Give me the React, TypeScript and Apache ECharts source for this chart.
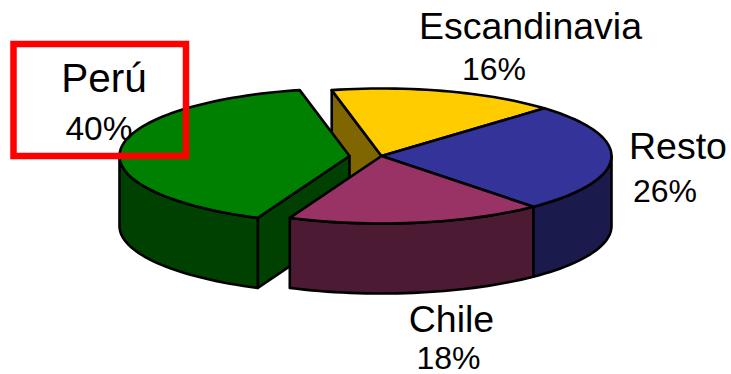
import React, { useEffect, useRef } from "react";
import * as echarts from "echarts";

// Sales share by destination, listed clockwise from the start of the pie.
const categories = ["Escandinavia", "Resto", "Chile", "Perú"];
const shares = [16, 26, 18, 40];
const topColors = ["#FFCC00", "#333399", "#993366", "#008000"];
const sideColors = ["#806600", "#1A1A4D", "#4D1A33", "#004000"];
const paintOrder = [0, 3, 1, 2]; // back slices first, front slices last

const labelFonts: [number, number][] = [[37.5, 32], [37.5, 32], [37.5, 32], [40.5, 33.5]];
const labelSpots = [
  { nameX: 530.5, nameY: 40, shareX: 494, shareY: 81 },
  { nameX: 678, nameY: 160, shareX: 665, shareY: 203 },
  { nameX: 451.5, nameY: 333, shareX: 448.5, shareY: 370 },
  { nameX: 104, nameY: 93, shareX: 99, shareY: 141 },
];

const CX = 381.5;
const CY = 156;
const RX = 230;
const RY = 67.5;
const DEPTH = 70;
const START_DEG = 102.5;
const EXPLODE_X = [0, 0, 0, -32];
const LINE = 2.6;
const ASCENT = 0.87; // distance from the top of a text box to its baseline, in ems

const total = shares.reduce((a, b) => a + b, 0);

function sliceAngles(i: number): [number, number] {
  const before = shares.slice(0, i).reduce((a, b) => a + b, 0);
  return [
    START_DEG - (before / total) * 360,
    START_DEG - ((before + shares[i]) / total) * 360,
  ];
}

function rimPoint(deg: number, ox: number, drop = 0): number[] {
  const t = (deg * Math.PI) / 180;
  return [CX + ox + RX * Math.cos(t), CY - RY * Math.sin(t) + drop];
}

function arc(from: number, to: number, ox: number, drop = 0): number[][] {
  const steps = Math.max(2, Math.ceil(Math.abs(to - from) / 2));
  const pts: number[][] = [];
  for (let k = 0; k <= steps; k++) {
    pts.push(rimPoint(from + ((to - from) * k) / steps, ox, drop));
  }
  return pts;
}

// The rim faces the viewer where sin(angle) < 0, i.e. -180..0 and its wraps.
function frontRange(a: number, b: number): [number, number] | null {
  for (const shift of [0, -360, 360]) {
    const hi = Math.min(a + shift, 0);
    const lo = Math.max(b + shift, -180);
    if (hi > lo) return [hi - shift, lo - shift];
  }
  return null;
}

function renderSlice(params: any) {
  const i = params.dataIndex;
  const [a, b] = sliceAngles(i);
  const ox = EXPLODE_X[i];
  const z2 = paintOrder.indexOf(i) * 10;
  const edge = { stroke: "#000", lineWidth: LINE, lineJoin: "round" };
  const poly = (points: number[][], fill: string, z: number) => ({
    type: "polygon",
    z2: z,
    shape: { points },
    style: { fill, ...edge },
  });
  const children: any[] = [];
  const apex = [CX + ox, CY];
  const apexLow = [CX + ox, CY + DEPTH];

  // Cut faces turned towards the viewer: the start edge of the first slice and of Perú's end.
  if (i === 0) {
    children.push(poly([rimPoint(a, ox), apex, apexLow, rimPoint(a, ox, DEPTH)], sideColors[i], z2));
  }
  if (i === categories.length - 1) {
    children.push(poly([apex, rimPoint(a, ox), rimPoint(a, ox, DEPTH), apexLow], sideColors[i], z2));
  }
  const range = frontRange(a, b);
  if (range) {
    children.push(
      poly([...arc(range[0], range[1], ox), ...arc(range[1], range[0], ox, DEPTH)], sideColors[i], z2 + 1)
    );
  }
  children.push(poly([apex, ...arc(a, b, ox)], topColors[i], z2 + 2));

  const [nameFont, shareFont] = labelFonts[i];
  const spot = labelSpots[i];
  const text = (x: number, baseline: number, str: string, size: number) => ({
    type: "text",
    z2: 100,
    style: {
      x,
      y: baseline - size * ASCENT,
      text: str,
      fill: "#000",
      font: `${size}px "Liberation Sans", Arial, sans-serif`,
      textAlign: "center",
      textVerticalAlign: "top",
    },
  });
  children.push(text(spot.nameX, spot.nameY, categories[i], nameFont));
  children.push(text(spot.shareX, spot.shareY, `${shares[i]}%`, shareFont));
  return { type: "group", children };
}

export default function App() {
  const ref = useRef<HTMLDivElement>(null);
  useEffect(() => {
    document.body.style.margin = "0";
    const chart = echarts.init(ref.current!, undefined, { renderer: "svg" });
    chart.setOption({
      animation: false,
      backgroundColor: "#fff",
      graphic: [
        {
          type: "rect",
          z: 50,
          shape: { x: 13.5, y: 44, width: 172.5, height: 112 },
          style: { fill: "none", stroke: "#FF0000", lineWidth: 6.5 },
        },
      ],
      series: [
        {
          type: "custom",
          coordinateSystem: "none",
          silent: true,
          data: categories.map((name, i) => ({ name, value: shares[i] })),
          renderItem: renderSlice,
        },
      ],
    });
    return () => chart.dispose();
  }, []);
  return <div ref={ref} style={{ width: 731, height: 374 }} />;
}
